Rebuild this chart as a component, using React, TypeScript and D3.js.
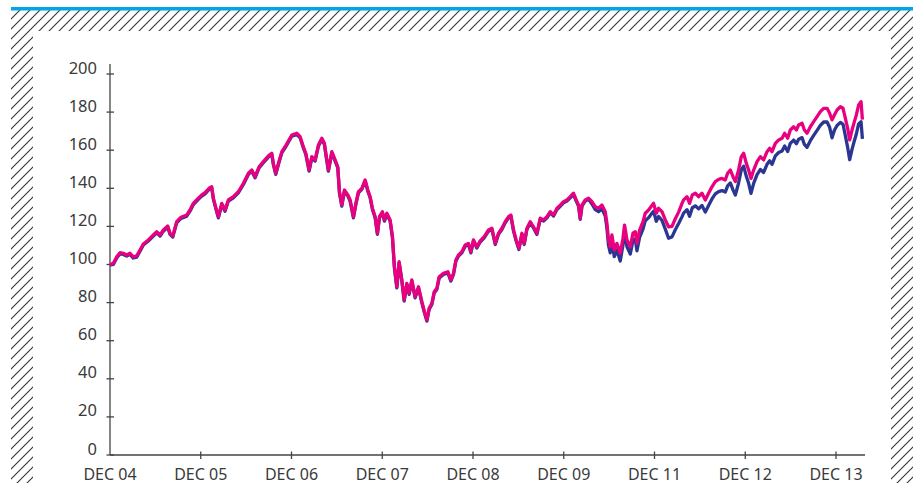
import React from "react";
import * as d3 from "d3";

// months since DEC 04
const months = [
  0.0, 0.44, 0.89, 1.32, 1.76, 2.21, 2.65, 3.08, 3.53, 3.97,
  4.41, 5.07, 5.73, 6.18, 6.62, 7.05, 7.63, 7.94, 8.3, 8.82,
  9.39, 10.15, 10.58, 11.02, 11.68, 12.13, 12.57, 13.1, 13.45, 13.67,
  14.02, 14.33, 14.78, 15.21, 15.65, 16.31, 16.97, 17.64, 18.3, 18.75,
  19.18, 19.71, 20.28, 20.94, 21.39, 21.6, 21.92, 22.27, 22.72, 23.15,
  24.04, 24.7, 25.14, 25.57, 25.89, 26.33, 26.69, 27.12, 27.56, 28.01,
  28.35, 28.54, 28.88, 29.33, 29.77, 30.12, 30.34, 30.65, 31.0, 31.45,
  31.75, 32.19, 32.51, 32.85, 33.3, 33.74, 34.09, 34.4, 34.7, 35.06,
  35.36, 35.63, 36.02, 36.29, 36.61, 37.04, 37.35, 37.61, 37.93, 38.23,
  38.59, 38.9, 39.25, 39.56, 39.91, 40.35, 40.79, 41.24, 41.58, 41.9,
  42.2, 42.56, 42.87, 43.22, 43.53, 44.1, 44.68, 45.07, 45.42, 45.74,
  46.08, 46.53, 46.97, 47.4, 47.72, 48.06, 48.51, 48.95, 49.48, 50.05,
  50.5, 50.94, 51.37, 51.82, 52.26, 52.7, 53.01, 53.36, 53.71, 54.07,
  54.47, 54.77, 55.13, 55.57, 56.0, 56.45, 56.89, 57.33, 57.78, 58.21,
  58.65, 59.1, 59.54, 59.97, 60.42, 60.86, 61.29, 61.65, 61.96, 62.18,
  62.41, 62.84, 63.28, 63.73, 64.17, 64.6, 65.05, 65.49, 65.71, 65.92,
  66.15, 66.37, 66.68, 67.03, 67.47, 67.83, 68.04, 68.36, 68.8, 69.15,
  69.46, 69.68, 70.03, 70.48, 70.78, 71.22, 71.53, 71.88, 72.24, 72.54,
  72.99, 73.43, 73.86, 74.31, 74.75, 75.19, 75.63, 75.85, 76.3, 76.64,
  77.0, 77.4, 77.83, 78.28, 78.72, 79.15, 79.6, 80.04, 80.48, 80.93,
  81.36, 81.67, 82.03, 82.38, 82.69, 83.12, 83.48, 83.79, 84.14, 84.45,
  84.76, 85.11, 85.56, 86.0, 86.43, 86.88, 87.23, 87.54, 87.98, 88.42,
  88.87, 89.21, 89.61, 89.96, 90.4, 90.76, 91.06, 91.51, 91.82, 92.17,
  92.61, 93.05, 93.5, 93.93, 94.37, 94.82, 95.16, 95.48, 95.79, 96.14,
  96.58, 96.93, 97.24, 97.54, 97.81, 98.12, 98.43, 98.69, 98.99, 99.31,
  99.49,
];

const pinkValues = [
  100, 100.6, 104, 106.2, 105.9, 105, 105.9, 104, 104.5, 107.6,
  110.8, 112.9, 115.5, 117.2, 115.5, 118.1, 120.2, 116.4, 115, 122.5,
  124.8, 126, 128.6, 132.1, 134.8, 136.5, 137.7, 140, 140.8, 134.8,
  129.5, 125.1, 132.1, 128.6, 133.9, 135.6, 138.2, 142.6, 147.9, 149.6,
  146.1, 151.3, 154, 157, 158.4, 153.1, 147.9, 153.1, 159.2, 161.8,
  168, 168.9, 167.1, 161.8, 158.4, 149.6, 156.6, 154.9, 162.7, 166.3,
  163.6, 158.4, 149.6, 159.2, 154.9, 151.3, 138.2, 131.2, 139.1, 136.5,
  133.9, 125.1, 132.1, 138.2, 140, 144.4, 139.1, 135.6, 129.5, 125.1,
  116.4, 125.1, 127.7, 123.4, 126.9, 123.4, 114.6, 98.8, 88.3, 101.5,
  91.9, 81.4, 90.1, 84.9, 91.9, 83.1, 88.3, 80.5, 75.2, 70.9,
  77, 79.6, 85.7, 87.5, 93.6, 95.4, 96.2, 91.9, 95.4, 102.4,
  105, 106.7, 110.2, 111.1, 106.7, 112.9, 109.3, 112.4, 114.6, 118.1,
  119, 111.1, 116.4, 119, 122.5, 125.1, 126, 118.1, 112.9, 108.5,
  116.4, 111.1, 119, 122.5, 119.8, 116.4, 124.3, 123.4, 125.1, 127.7,
  126, 129.5, 131.2, 133, 133.9, 135.6, 137.4, 133.9, 131.2, 124.3,
  131.2, 133.9, 134.8, 133, 130.3, 129.5, 131.2, 127.7, 121.6, 112.9,
  109.3, 115.5, 107.6, 111.1, 105.9, 113.8, 120.7, 112.9, 109.3, 116.4,
  117.2, 111.1, 118.1, 122.5, 126.9, 128.6, 130.3, 132.1, 126.9, 129.5,
  127.7, 123.4, 119.8, 120, 124, 127.5, 132, 133.9, 135.6, 132.1,
  136.5, 137.4, 135.6, 137.4, 133.9, 137.4, 140.8, 143.5, 144.7, 145.2,
  144.4, 147.9, 149.6, 146.1, 143.5, 149.6, 156.6, 158.4, 153.1, 149.6,
  145.2, 149.6, 154, 156.6, 154.9, 159.2, 161, 159.2, 163.6, 165.4,
  166.3, 168.9, 166.3, 170.6, 172.3, 170.6, 173.2, 174.1, 170.6, 168.9,
  172.3, 175, 177.6, 180.2, 182, 182, 179.4, 175.9, 178.5, 181.1,
  182.8, 182, 176.7, 171.5, 165.4, 170.6, 175, 178.5, 183.7, 185.5,
  176,
];

const blueValues = [
  99.6, 100.0, 103.4, 105.6, 105.3, 104.4, 105.3, 103.4, 103.9, 107.0,
  110.2, 112.3, 114.9, 116.6, 114.9, 117.5, 119.6, 115.8, 114.4, 121.9,
  124.2, 125.4, 128.0, 131.5, 134.2, 135.9, 137.1, 139.4, 140.2, 134.2,
  128.9, 124.5, 131.5, 128.0, 133.3, 135.0, 137.6, 142.0, 147.3, 149.0,
  145.5, 150.7, 153.4, 156.4, 157.8, 152.5, 147.3, 152.5, 158.6, 161.2,
  167.4, 168.3, 166.5, 161.2, 157.8, 149.0, 156.0, 154.3, 162.1, 165.7,
  163.0, 157.8, 149.0, 158.6, 154.3, 150.7, 137.6, 130.6, 138.5, 135.9,
  133.3, 124.5, 131.5, 137.6, 139.4, 143.8, 138.5, 135.0, 128.9, 124.5,
  115.8, 124.5, 127.1, 122.8, 126.3, 122.8, 114.0, 98.2, 87.7, 100.9,
  91.3, 80.8, 89.5, 84.3, 91.3, 82.5, 87.7, 79.9, 74.6, 70.3,
  76.4, 79.0, 85.1, 86.9, 93.0, 94.8, 95.6, 91.3, 94.8, 101.8,
  104.4, 106.1, 109.6, 110.5, 106.1, 112.3, 108.7, 111.8, 114.0, 117.5,
  118.4, 110.5, 115.8, 118.4, 121.9, 124.5, 125.4, 117.5, 112.3, 107.9,
  115.8, 110.5, 118.4, 121.9, 119.2, 115.8, 123.7, 122.8, 124.5, 127.1,
  125.4, 128.9, 130.6, 132.4, 133.3, 135.0, 136.8, 133.3, 130.6, 123.7,
  130.6, 133.3, 134.2, 131.8, 128.8, 127.7, 129.2, 125.4, 119.0, 110.0,
  106.1, 112.2, 104.1, 107.6, 101.8, 110.2, 117.2, 109.3, 105.5, 112.6,
  113.4, 107.2, 114.2, 118.6, 123.0, 124.6, 126.2, 128.0, 122.7, 125.2,
  123.2, 118.6, 113.8, 114.5, 118.2, 121.5, 125.0, 127.0, 128.8, 125.3,
  129.8, 130.8, 129.2, 131.0, 127.5, 131.0, 134.4, 137.1, 138.3, 138.8,
  138.0, 141.3, 142.8, 139.2, 136.5, 142.8, 149.8, 151.6, 146.3, 142.6,
  137.3, 142.6, 147.2, 149.9, 148.3, 152.6, 154.4, 152.6, 157.0, 158.8,
  159.6, 162.2, 159.3, 163.6, 165.3, 163.4, 165.8, 166.6, 163.0, 161.5,
  165.0, 167.8, 170.4, 173.0, 174.8, 174.8, 172.0, 166.5, 170.5, 173.0,
  174.6, 173.6, 167.5, 161.5, 155.0, 160.4, 165.0, 168.5, 173.8, 175.0,
  166,
];

const yTicks = [0, 20, 40, 60, 80, 100, 120, 140, 160, 180, 200];
const xTickMonths = [0, 12, 24, 36, 48, 60, 72, 84, 96];
const xTickLabels = ["DEC 04", "DEC 05", "DEC 06", "DEC 07", "DEC 08", "DEC 09", "DEC 11", "DEC 12", "DEC 13"];

const W = 920;
const H = 483;
const FONT = "'Noto Sans', 'Open Sans', sans-serif";

export default function App() {
  const x = d3.scaleLinear().domain([0, 96]).range([110, 836]);
  const y = d3.scaleLinear().domain([0, 200]).range([455, 74]);

  const blueData = months.map((m, i) => [m, blueValues[i]] as [number, number]);
  const pinkData = months.map((m, i) => [m, pinkValues[i]] as [number, number]);
  const line = d3
    .line<[number, number]>()
    .x((d) => x(d[0]))
    .y((d) => y(d[1]));

  const axisColor = "#444";
  const textColor = "#3a3a3a";

  return (
    <svg
      width={W}
      height={H}
      style={{ position: "fixed", left: 0, top: 0, display: "block", background: "#fff" }}
    >
      <defs>
        <pattern id="hatch" patternUnits="userSpaceOnUse" width={10} height={10}>
          <path
            d="M0,10 L10,0 M-2.5,2.5 L2.5,-2.5 M7.5,12.5 L12.5,7.5"
            stroke="#333"
            strokeWidth={1.1}
          />
        </pattern>
      </defs>
      {/* hatched frame */}
      <rect x={11} y={10} width={902} height={21} fill="url(#hatch)" />
      <rect x={11} y={31} width={22} height={H - 31} fill="url(#hatch)" />
      <rect x={891} y={31} width={22} height={H - 31} fill="url(#hatch)" />
      <rect x={33} y={31} width={858} height={H - 31} fill="#fff" />
      {/* top blue rule */}
      <rect x={11} y={7} width={902} height={3.5} fill="#00a6e4" />

      {/* axes */}
      <line x1={110} x2={110} y1={64} y2={455} stroke={axisColor} strokeWidth={1.3} />
      <line x1={110} x2={865} y1={455} y2={455} stroke={axisColor} strokeWidth={1.3} />
      {yTicks.map((t) => (
        <g key={"y" + t}>
          <line x1={106.5} x2={114} y1={y(t)} y2={y(t)} stroke={axisColor} strokeWidth={1.3} />
          <text
            x={97}
            y={y(t) - 0.5}
            textAnchor="end"
            fontFamily={FONT}
            fontSize={16.5}
            fill={textColor}
          >
            {t}
          </text>
        </g>
      ))}
      {xTickMonths.map((m, i) => (
        <g key={"x" + m}>
          {i > 0 && (
            <line x1={x(m)} x2={x(m)} y1={451.5} y2={459} stroke={axisColor} strokeWidth={1.3} />
          )}
          <text
            x={x(m)}
            y={479.5}
            textAnchor="middle"
            fontFamily={FONT}
            fontSize={16}
            fill={textColor}
          >
            {xTickLabels[i]}
          </text>
        </g>
      ))}

      {/* series */}
      <path
        d={line(blueData) || ""}
        fill="none"
        stroke="#2b3592"
        strokeWidth={3.3}
        strokeLinejoin="round"
      />
      <path
        d={line(pinkData) || ""}
        fill="none"
        stroke="#e8007f"
        strokeWidth={3.3}
        strokeLinejoin="round"
      />
    </svg>
  );
}
